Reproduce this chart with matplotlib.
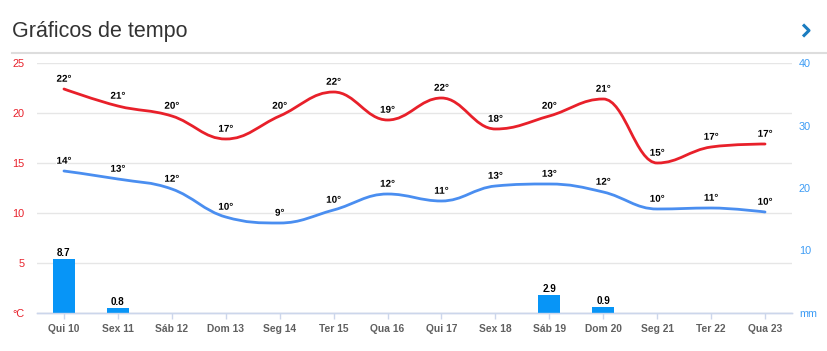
import matplotlib
matplotlib.use("Agg")
import matplotlib.pyplot as plt
import matplotlib.patheffects as pe
from matplotlib.path import Path
from matplotlib.patches import PathPatch
from matplotlib.lines import Line2D

plt.rcParams['font.family'] = ['Liberation Sans', 'DejaVu Sans']

days = ['Qui 10', 'Sex 11', 'Sáb 12', 'Dom 13', 'Seg 14', 'Ter 15', 'Qua 16',
        'Qui 17', 'Sex 18', 'Sáb 19', 'Dom 20', 'Seg 21', 'Ter 22', 'Qua 23']
t_max = [22.4, 20.7, 19.7, 17.4, 19.7, 22.1, 19.3, 21.5, 18.4, 19.7, 21.4, 15.0, 16.6, 16.9]
t_max_lbl = [22, 21, 20, 17, 20, 22, 19, 22, 18, 20, 21, 15, 17, 17]
t_min = [14.2, 13.4, 12.4, 9.6, 9.0, 10.3, 11.9, 11.2, 12.7, 12.9, 12.1, 10.4, 10.5, 10.1]
t_min_lbl = [14, 13, 12, 10, 9, 10, 12, 11, 13, 13, 12, 10, 11, 10]
rain = [8.7, 0.8, 0, 0, 0, 0, 0, 0, 0, 2.9, 0.9, 0, 0, 0]

RED = '#e8202a'
BLUE = '#4a8ef0'
BAR = '#0795f7'
AXC = '#ccd6eb'


def spline_path(xs, ys, smoothing=1.5):
    # same kind of spline as highcharts uses
    n = len(xs)
    denom = smoothing + 1
    rc = [None] * n
    verts = [(xs[0], ys[0])]
    codes = [Path.MOVETO]
    for i in range(1, n):
        x, y = xs[i], ys[i]
        lx, ly = xs[i - 1], ys[i - 1]
        lcx, lcy = x, y
        if i < n - 1:
            nx, ny = xs[i + 1], ys[i + 1]
            lcx = (smoothing * x + lx) / denom
            lcy = (smoothing * y + ly) / denom
            rcx = (smoothing * x + nx) / denom
            rcy = (smoothing * y + ny) / denom
            corr = (rcy - lcy) * (rcx - x) / (rcx - lcx) + y - rcy
            lcy += corr
            rcy += corr
            if lcy > ly and lcy > y:
                lcy = max(ly, y); rcy = 2 * y - lcy
            elif lcy < ly and lcy < y:
                lcy = min(ly, y); rcy = 2 * y - lcy
            if rcy > ny and rcy > y:
                rcy = max(ny, y); lcy = 2 * y - rcy
            elif rcy < ny and rcy < y:
                rcy = min(ny, y); lcy = 2 * y - rcy
            rc[i] = (rcx, rcy)
        prev_rc = rc[i - 1] if rc[i - 1] is not None else (lx, ly)
        verts += [prev_rc, (lcx, lcy), (x, y)]
        codes += [Path.CURVE4] * 3
    return Path(verts, codes)


fig = plt.figure(figsize=(8.27, 3.51), dpi=100)
ax = fig.add_axes([37 / 827, 1 - 313 / 351, 755 / 827, 250 / 351])
ax2 = ax.twinx()

x = list(range(len(days)))

ax.set_xlim(-0.5, 13.5)
ax.set_ylim(0, 25)
ax2.set_ylim(0, 40)

# precipitation bars (right axis)
ax2.bar(x, rain, width=0.41, color=BAR, zorder=2)
for xi, v in zip(x, rain):
    if v > 0:
        ax2.annotate(f'{v:.1f}', (xi, v), xytext=(0, 0.8), textcoords='offset points',
                     ha='center', va='bottom', fontsize=7.1, fontweight='bold', color='#000')

# temperature splines, drawn on top axes but in the °C scale
for vals, col in [(t_max, RED), (t_min, BLUE)]:
    p = spline_path(x, vals)
    ax2.add_patch(PathPatch(p, transform=ax.transData, facecolor='none', edgecolor=col,
                            lw=2, zorder=3, capstyle='round', joinstyle='round'))
for vals, lbls in [(t_max, t_max_lbl), (t_min, t_min_lbl)]:
    for xi, v, l in zip(x, vals, lbls):
        ax2.annotate(f'{l}°', (xi, v), xycoords=ax.transData, xytext=(0, 3.8),
                     textcoords='offset points', ha='center', va='bottom', fontsize=7.1,
                     fontweight='bold', color='#000', zorder=5,
                     path_effects=[pe.withStroke(linewidth=1.8, foreground='white')])

ax.set_yticks([0, 5, 10, 15, 20, 25])
ax.set_yticklabels(['°C', '5', '10', '15', '20', '25'])
ax.tick_params(axis='y', length=0, pad=9, colors=RED, labelsize=7.8)
ax.grid(axis='y', color='#e6e6e6', lw=1)
ax.set_axisbelow(True)
ax.set_xticks(x)
ax.set_xticklabels(days, fontweight='bold', color='#606060', fontsize=7.4)
ax.tick_params(axis='x', length=4, width=1, color=AXC, pad=4)

ax2.set_yticks([0, 10, 20, 30, 40])
ax2.set_yticklabels(['mm', '10', '20', '30', '40'])
ax2.tick_params(axis='y', length=0, pad=5, colors='#3d9cf5', labelsize=7.8)

for a in (ax, ax2):
    for s in ('top', 'left', 'right'):
        a.spines[s].set_visible(False)
    a.spines['bottom'].set_color(AXC)
    a.spines['bottom'].set_linewidth(1)

# header
fig.text(12 / 827, 1 - 31 / 351, 'Gráficos de tempo', fontsize=15.5, color='#333333',
         ha='left', va='center')
fig.add_artist(Line2D([12 / 827, 1], [1 - 53 / 351] * 2, color='#dddddd', lw=1.5))
fig.add_artist(Line2D([803 / 827, 809 / 827, 803 / 827],
                      [1 - 24.5 / 351, 1 - 30.5 / 351, 1 - 36.5 / 351],
                      color='#1a7cc0', lw=2.2, solid_capstyle='butt'))

fig.savefig('out.png', dpi=100)
